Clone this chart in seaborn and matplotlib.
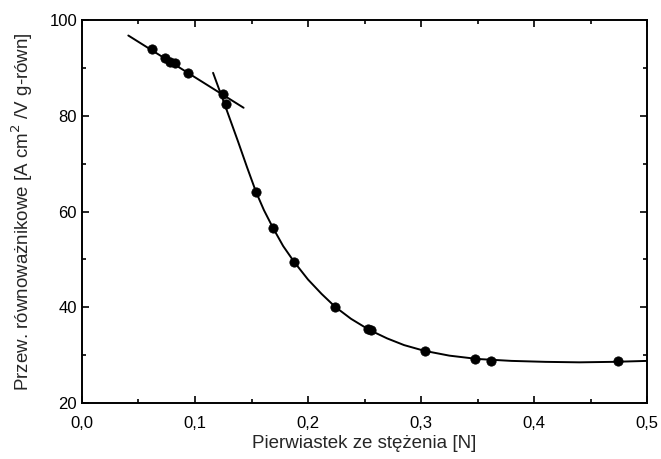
import numpy as np
import pandas as pd
import seaborn as sns
import matplotlib.pyplot as plt
from matplotlib.ticker import MultipleLocator

# measured points
conc = [0.062, 0.0735, 0.078, 0.082, 0.094, 0.1245, 0.127, 0.154, 0.169, 0.188,
        0.224, 0.253, 0.256, 0.3035, 0.348, 0.362, 0.474]
cond = [93.9, 92.0, 91.3, 91.0, 88.9, 84.5, 82.5, 64.1, 56.6, 49.4,
        40.1, 35.5, 35.2, 30.9, 29.1, 28.8, 28.8]

# straight line through the low-concentration points
line_x = [0.041, 0.143]
line_y = [96.8, 81.7]

# fitted curve
curve_x = [0.116, 0.127, 0.138, 0.146, 0.154, 0.161, 0.169, 0.178,
           0.188, 0.200, 0.212, 0.224, 0.238, 0.254, 0.270, 0.285, 0.303, 0.325,
           0.350, 0.380, 0.410, 0.440, 0.470, 0.500]
curve_y = [89.0, 81.9, 74.7, 69.3, 64.1, 60.3, 56.6, 52.8,
           49.4, 45.8, 42.8, 40.1, 37.6, 35.3, 33.5, 32.1, 30.9, 29.9,
           29.2, 28.8, 28.6, 28.5, 28.6, 28.8]

x_ticks = [0.0, 0.1, 0.2, 0.3, 0.4, 0.5]
x_labels = ['0,0', '0,1', '0,2', '0,3', '0,4', '0,5']
y_ticks = [20, 40, 60, 80, 100]

sns.set_style('ticks')
plt.rcParams['font.family'] = ['Liberation Sans', 'DejaVu Sans']

fig = plt.figure(figsize=(6.61, 4.59), dpi=100)
ax = fig.add_axes([0.124, 0.122, 0.855, 0.834])

pts = pd.DataFrame({'x': conc, 'y': cond})
sns.lineplot(x=line_x, y=line_y, ax=ax, color='black', linewidth=1.4, sort=False)
sns.lineplot(x=curve_x, y=curve_y, ax=ax, color='black', linewidth=1.4, sort=False)
sns.scatterplot(data=pts, x='x', y='y', ax=ax, color='black', s=45,
                edgecolor='black', zorder=3)

ax.set_xlim(0, 0.5)
ax.set_ylim(20, 100)
ax.set_xticks(x_ticks)
ax.set_xticklabels(x_labels)
ax.set_yticks(y_ticks)
ax.xaxis.set_minor_locator(MultipleLocator(0.05))
ax.yaxis.set_minor_locator(MultipleLocator(10))
ax.tick_params(which='both', direction='in', top=True, right=True,
               labelsize=12, width=1.2, colors='black')
ax.tick_params(axis='x', which='major', pad=9)
ax.tick_params(which='major', length=5)
ax.tick_params(which='minor', length=3)
for s in ax.spines.values():
    s.set_linewidth(1.4)
    s.set_color('black')

ax.set_xlabel('Pierwiastek ze stężenia [N]', fontsize=13.5, labelpad=3)
ax.set_ylabel('Przew. równoważnikowe [A cm$^2$ /V g-równ]', fontsize=13.5,
              labelpad=10)

fig.savefig('out.png', dpi=100)
